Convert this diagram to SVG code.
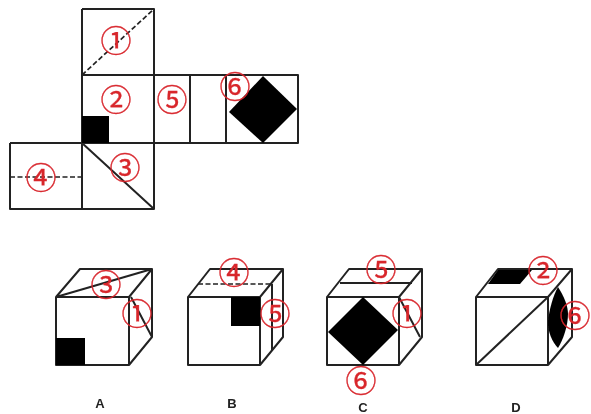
<svg xmlns="http://www.w3.org/2000/svg" width="591" height="414" viewBox="0 0 591 414">
<defs><filter id="soft" x="-5%" y="-5%" width="110%" height="110%"><feGaussianBlur stdDeviation="0.55"/></filter></defs>
<style>
.l{fill:none;stroke:#222;stroke-width:2;stroke-linejoin:round}
.d{fill:none;stroke:#222;stroke-width:1.7;stroke-dasharray:5 2.5}
.b{fill:#000}
.n{font-family:"Noto Sans CJK SC","DejaVu Sans",sans-serif;font-size:31px;fill:#d8262c;stroke:#d8262c;stroke-width:.35;text-anchor:middle;dominant-baseline:central}
.t{font-family:"Liberation Sans",Arial,sans-serif;font-size:13px;font-weight:bold;fill:#222;text-anchor:middle}
</style>
<rect width="591" height="414" fill="#fff"/>
<g filter="url(#soft)">
<g id="net">
<path class="l" d="M82 9H154V143M82 9V209M82 75H298V143H82M190 75V143M226 75V143M10 143H82M10 143V209H154V143M82 143L154 209"/>
<path class="d" d="M82 75L154 9M10 177H82"/>
<rect class="b" x="82" y="116" width="27" height="27"/>
<path class="b" d="M263 76L297 109L263 143L229 112Z"/>
<text class="n" x="116" y="38">①</text><text class="n" x="116" y="97">②</text><text class="n" x="172" y="97">⑤</text><text class="n" x="235" y="84">⑥</text><text class="n" x="41" y="175">④</text><text class="n" x="125" y="165">③</text>
</g>
<g id="cube-a">
<path class="l" d="M56 297H129V365H56ZM56 297L80 269H152V337L129 365M129 297L152 269M56 297L152 269M131 297L152 337"/>
<rect class="b" x="56" y="338" width="29" height="27"/>
<text class="n" x="106" y="282">③</text><text class="n" x="137" y="311">①</text>
<text class="t" x="100" y="408">A</text>
</g>
<g id="cube-b">
<path class="l" d="M188 297H260V365H188ZM188 297L210 269H283V337L260 365M260 297L283 269M272 284V351"/>
<path class="d" d="M198 284H272"/>
<rect class="b" x="231" y="297" width="29" height="29"/>
<text class="n" x="234" y="270">④</text><text class="n" x="275" y="311">⑤</text>
<text class="t" x="232" y="408">B</text>
</g>
<g id="cube-c">
<path class="l" d="M327 297H399V365H327ZM327 297L349 269H422V337L399 365M399 297L422 269M340 283H412M399 297L420 337"/>
<path class="b" d="M363 297L398 330L363 365L328 332Z"/>
<text class="n" x="381" y="267">⑤</text><text class="n" x="407" y="311">①</text><text class="n" x="361" y="378">⑥</text>
<text class="t" x="363" y="412">C</text>
</g>
<g id="cube-d">
<path class="l" d="M476 297H548V365H476ZM476 297L498 269H572V337L548 365M548 297L572 269M476 365L548 297"/>
<path class="b" d="M488 284L498 270H532L520 284Z"/>
<path class="b" d="M558 287C564 296 568 306 568 314C568 326 563 340 558 348C552 342 548 332 548 322C549 310 553 296 558 287Z"/>
<text class="n" x="543" y="268">②</text><text class="n" x="575" y="313">⑥</text>
<text class="t" x="516" y="412">D</text>
</g>
</g>
</svg>
